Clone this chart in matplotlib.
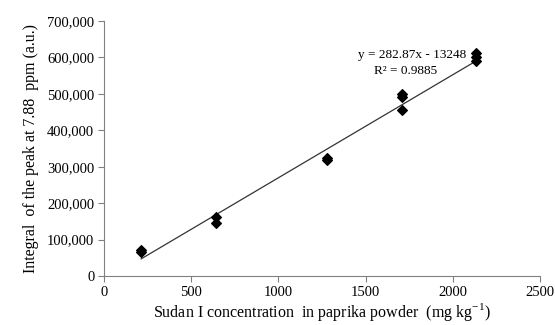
import matplotlib
matplotlib.use("Agg")
import matplotlib.pyplot as plt
from matplotlib.ticker import FuncFormatter
import numpy as np

conc = [213, 213, 640, 640, 1280, 1280, 1707, 1707, 1707, 2133, 2133, 2133]
integral = [65000, 70000, 145000, 162000, 318000, 325000, 457000, 490000, 500000, 590000, 600000, 612000]
slope, intercept = 282.87, -13248
eq_text = "y = 282.87x - 13248"
r2_text = "R² = 0.9885"
xticks = [0, 500, 1000, 1500, 2000, 2500]
yticks = [0, 100000, 200000, 300000, 400000, 500000, 600000, 700000]

plt.rcParams['font.family'] = ['Liberation Serif', 'DejaVu Serif']
plt.rcParams['mathtext.fontset'] = 'custom'
plt.rcParams['mathtext.rm'] = 'Liberation Serif'
fig = plt.figure(figsize=(5.55, 3.25), dpi=100)
ax = fig.add_axes([0.1874, 0.1508, 0.7856, 0.7846])

xl = np.array([min(conc), max(conc)])
ax.plot(xl, slope * xl + intercept, color='#333333', lw=0.9)
ax.scatter(conc, integral, marker='D', s=24, color='black', zorder=3)

ax.set_xlim(0, 2500)
ax.set_ylim(0, 700000)
ax.set_xticks(xticks)
ax.set_yticks(yticks)
ax.yaxis.set_major_formatter(FuncFormatter(lambda v, p: f"{int(v):,}"))
for s in ['top', 'right']:
    ax.spines[s].set_visible(False)
for s in ['left', 'bottom']:
    ax.spines[s].set_color('#808080')
ax.tick_params(direction='out', length=4, color='#808080', labelsize=10.5, pad=3)

ax.set_xlabel("Sudan I concentration  in paprika powder  (mg kg$^{\\mathregular{-1}}$)", fontsize=11.5, labelpad=2)
ax.set_ylabel("Integral  of the peak at 7.88  ppm (a.u.)", fontsize=11.5, labelpad=6)

ax.text(1768, 608000, eq_text, ha='center', va='center', fontsize=9.5)
ax.text(1730, 562000, r2_text, ha='center', va='center', fontsize=9.5)

fig.savefig("out.png", dpi=100)
